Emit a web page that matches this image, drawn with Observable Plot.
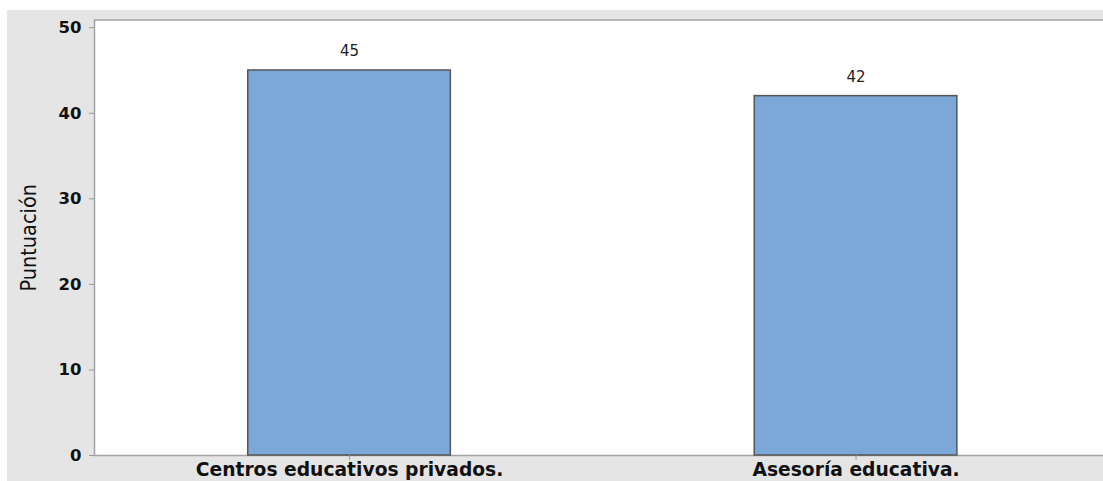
<!DOCTYPE html>
<html>
<head>
<meta charset="utf-8">
<script src="https://cdn.jsdelivr.net/npm/d3@7"></script>
<script src="https://cdn.jsdelivr.net/npm/@observablehq/plot@0.6"></script>
<style>
  html, body { margin: 0; padding: 0; background: #ffffff; }
  #wrap { position: absolute; left: 7px; top: 10px; width: 1096px; height: 471px; background: #e5e5e5; overflow: hidden; }
</style>
</head>
<body>
<div id="wrap"></div>
<script>
const categories = ["Centros educativos privados.", "Asesoría educativa."];
const values = [45, 42];
const yTicks = [0, 10, 20, 30, 40, 50];
const yLabel = "Puntuación";

const data = categories.map((category, i) => ({category, value: values[i]}));

const chart = Plot.plot({
  width: 1096,
  height: 471,
  marginLeft: 87,
  marginTop: 9.5,
  marginBottom: 26,
  marginRight: -2,
  style: {background: "transparent", fontFamily: "DejaVu Sans"},
  x: {domain: categories, range: [87, 1103.6], paddingInner: 0.6, paddingOuter: 0.3035, round: false},
  y: {domain: [0, 50.9]},
  marks: [
    Plot.frame({fill: "white", stroke: "#a3a3a3", strokeWidth: 1.5}),
    Plot.barY(data, {x: "category", y: "value", fill: "#7ba7d9", stroke: "#555555", strokeWidth: 1.5}),
    Plot.text(data, {x: "category", y: "value", text: d => String(d.value), dy: -19, fontSize: 15, fill: "#222222"}),
    Plot.axisY({ticks: yTicks, tickSize: 5, tickPadding: 8, stroke: "#999999", fill: "#111111", fontSize: 16.5, fontWeight: "bold", label: null}),
    Plot.axisX({tickSize: 5, tickPadding: 2, stroke: "#999999", fill: "#111111", fontSize: 18.7, fontWeight: "bold", label: null}),
    Plot.text([yLabel], {frameAnchor: "left", textAnchor: "middle", lineAnchor: "middle", rotate: -90, dx: -65.5, fontSize: 21.5, fontWeight: 500, fontFamily: "Liberation Sans Narrow, DejaVu Sans Condensed, sans-serif", fill: "#111111"})
  ]
});
document.getElementById("wrap").appendChild(chart);
</script>
</body>
</html>
